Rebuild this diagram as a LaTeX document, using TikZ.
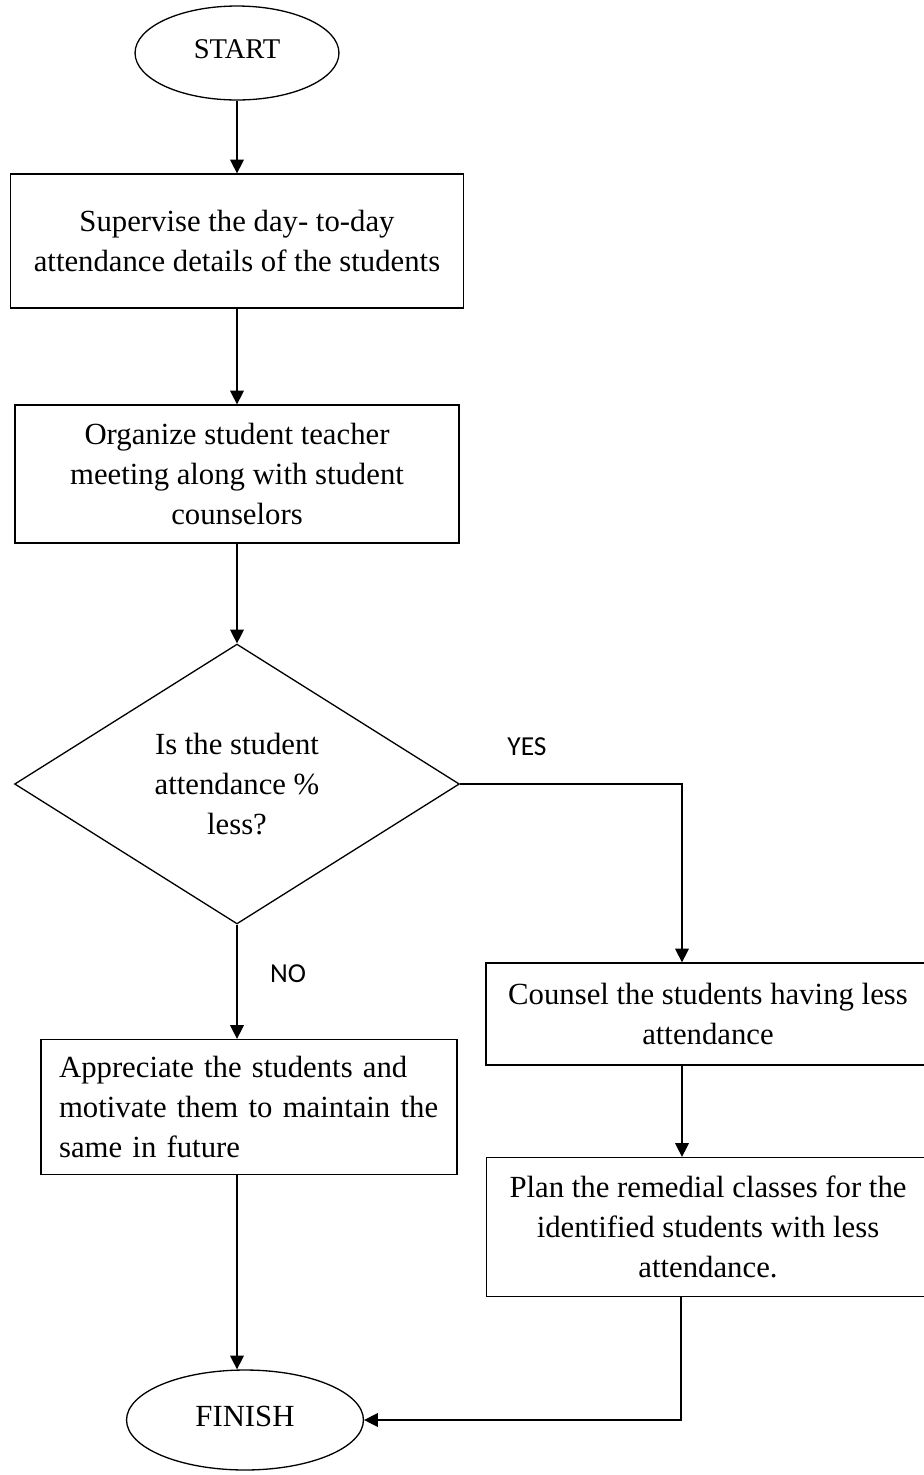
\documentclass[tikz,border=0pt]{standalone}
\usepackage{fontspec}
\setmainfont{Liberation Serif}
\newfontfamily\labelfont{Carlito}
\usetikzlibrary{shapes.geometric,arrows.meta}
\begin{document}
\begin{tikzpicture}[x=0.016cm,y=-0.016cm]
	\tikzstyle{every node}+=[inner sep=0pt]
	\tikzstyle{terminal}=[draw,ellipse,line width=0.6pt]
	\tikzstyle{process}=[draw,rectangle,line width=0.6pt,align=center,font=\fontsize{14}{18.2}\selectfont]
	\tikzstyle{decision}=[draw,diamond,line width=0.6pt,align=center,font=\fontsize{14}{18.2}\selectfont]
	\tikzstyle{flow}=[line width=0.6pt,-{Triangle[length=0.22cm,width=0.22cm]}]
	\tikzstyle{branch}=[font=\labelfont\fontsize{12.5}{14}\selectfont]
	\useasboundingbox (0,0) rectangle (924,1475);
	% left column
	\node [terminal, minimum width=3.264cm, minimum height=1.504cm, font=\fontsize{13}{15}\selectfont] (start) at (237,53) {\raisebox{3.6pt}{START}};
	\node [process, minimum width=7.248cm, minimum height=2.144cm] (supervise) at (237,241) {Supervise the day- to-day\\attendance details of the students};
	\node [process, minimum width=7.104cm, minimum height=2.208cm] (organize) at (237,474) {Organize student teacher\\meeting along with student\\counselors};
	\node [decision, minimum width=7.12cm, minimum height=4.48cm] (check) at (237,784) {Is the student\\attendance \%\\less?};
	\node [process, align=left, text width=6.08cm, inner xsep=0.288cm, minimum height=2.16cm] (appreciate) at (249,1107) {Appreciate the students and\\motivate them to maintain the\\same in future};
	\node [terminal, minimum width=3.792cm, minimum height=1.6cm, font=\fontsize{14}{16}\selectfont] (finish) at (245,1420) {\raisebox{3.6pt}{FINISH}};
	% right column
	\node [process, minimum width=7.104cm, minimum height=1.632cm] (counsel) at (708,1014) {Counsel the students having less\\attendance};
	\node [process, minimum width=7.088cm, minimum height=2.224cm] (remedial) at (708,1227) {Plan the remedial classes for the\\identified students with less\\attendance.};
	% branch labels
	\node [branch] (yes) at (527,747) {YES};
	\node [branch] (no) at (288,974) {NO};
	\coordinate (yesbend) at (682,784);
	\coordinate (backbend) at (681,1420);
	% connectors
	\draw [flow] (start) -- (supervise);
	\draw [flow] (supervise) -- (organize);
	\draw [flow] (organize) -- (check);
	\draw [flow] (check.south) -- (check.south |- appreciate.north);
	\draw [flow] (check.south |- appreciate.south) -- (check.south |- finish.north);
	\draw [flow] (check.east) -- (yesbend) -- (yesbend |- counsel.north);
	\draw [flow] (yesbend |- counsel.south) -- (yesbend |- remedial.north);
	\draw [flow] (backbend |- remedial.south) -- (backbend) -- (finish.east);
\end{tikzpicture}
\end{document}
